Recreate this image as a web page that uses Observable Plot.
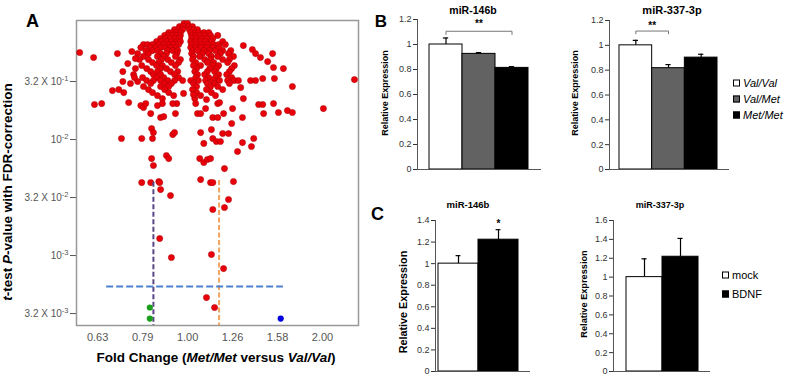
<!DOCTYPE html>
<html>
<head>
<meta charset="utf-8">
<script src="https://cdn.jsdelivr.net/npm/d3@7"></script>
<script src="https://cdn.jsdelivr.net/npm/@observablehq/plot@0.6"></script>
<style>
  body { margin: 0; background: #fff; }
  #root { position: relative; width: 793px; height: 375px; overflow: hidden; background: #fff;
          font-family: "Liberation Sans", Arial, sans-serif; color: #000; }
  .lbl { position: absolute; white-space: nowrap; line-height: 1; transform: translate(-50%, -50%); }
  .leg { position: absolute; display: flex; align-items: center; white-space: nowrap; line-height: 1;
         transform: translateY(-50%); font-size: 11px; }
  .sq { width: 5px; height: 5px; border: 1px solid #000; display: inline-block; margin-right: 3px; }
</style>
</head>
<body>
<div id="root"></div>
<script>
// ---------------- Panel A data (log10 fold change, log10 FDR P-value) ----------------
const xTickVals = [-0.2, -0.1, 0, 0.1, 0.2, 0.3];
const xTickLabels = ["0.63", "0.79", "1.00", "1.26", "1.58", "2.00"];
const yTickVals = [-0.5, -1, -1.5, -2, -2.5];
const yTickLabels = ["3.2 X 10^-1", "10^-2", "3.2 X 10^-2", "10^-3", "3.2 X 10^-3"];

const clusterRows = [
  {lp: 0, lfc: [-0.008, 0.000]},
  {lp: -0.026, lfc: [-0.018, -0.009, 0.002, 0.011]},
  {lp: -0.052, lfc: [-0.029, -0.020, -0.011, 0.004, 0.013, 0.022]},
  {lp: -0.078, lfc: [-0.042, -0.033, -0.024, -0.016, 0.007, 0.016, 0.024, 0.036, 0.047]},
  {lp: -0.103, lfc: [-0.051, -0.042, -0.033, -0.024, -0.016, 0.009, 0.018, 0.027, 0.038, 0.051, 0.067]},
  {lp: -0.129, lfc: [-0.060, -0.049, -0.038, -0.027, -0.018, 0.009, 0.020, 0.031, 0.042, 0.056]},
  {lp: -0.155, lfc: [-0.069, -0.058, -0.047, -0.036, -0.024, -0.016, 0.007, 0.018, 0.029, 0.040, 0.053, 0.078]},
  {lp: -0.181, lfc: [-0.098, -0.089, -0.078, -0.064, -0.053, -0.042, -0.031, -0.020, 0.009, 0.020, 0.031, 0.044, 0.058, 0.069, 0.084]},
  {lp: -0.207, lfc: [-0.104, -0.082, -0.071, -0.060, -0.049, -0.038, -0.027, 0.007, 0.018, 0.029, 0.042, 0.056, 0.071]},
  {lp: -0.233, lfc: [-0.093, -0.078, -0.067, -0.044, -0.033, -0.022, 0.011, 0.022, 0.036, 0.049, 0.062, 0.078, 0.096]},
  {lp: -0.259, lfc: [-0.111, -0.087, -0.060, -0.047, -0.024, 0.009, 0.033, 0.047, 0.073, 0.091]},
  {lp: -0.284, lfc: [-0.098, -0.067, -0.053, -0.027, 0.013, 0.027, 0.053, 0.067, 0.102]},
  {lp: -0.310, lfc: [-0.107, -0.087, -0.058, -0.044, -0.016, 0.011, 0.038, 0.051, 0.078, 0.093]},
  {lp: -0.336, lfc: [-0.078, -0.064, -0.036, -0.020, 0.018, 0.044, 0.058, 0.089]},
  {lp: -0.362, lfc: [-0.102, -0.069, -0.056, -0.027, 0.013, 0.029, 0.056, 0.069, 0.104]},
  {lp: -0.388, lfc: [-0.116, -0.091, -0.060, -0.047, 0.020, 0.049, 0.064, 0.098]},
  {lp: -0.414, lfc: [-0.082, -0.067, -0.038, -0.022, 0.016, 0.044, 0.060, 0.093]},
  {lp: -0.440, lfc: [-0.120, -0.076, -0.060, -0.029, 0.022, 0.038, 0.069, 0.087]},
  {lp: -0.466, lfc: [-0.100, -0.069, -0.053, -0.020, 0.018, 0.047, 0.062, 0.098]},
  {lp: -0.491, lfc: [-0.091, -0.076, -0.060, -0.044, -0.029, -0.011, 0.007, 0.024, 0.040, 0.056, 0.071, 0.089, 0.104]},
  {lp: -0.517, lfc: [-0.082, -0.051, -0.036, 0.013, 0.044, 0.060, 0.093]},
  {lp: -0.543, lfc: [-0.098, -0.060, -0.042, 0.020, 0.051, 0.067]},
  {lp: -0.569, lfc: [-0.087, -0.051, 0.011, 0.042, 0.078]},
  {lp: -0.595, lfc: [-0.078, -0.042, 0.020, 0.053]},
  {lp: -0.621, lfc: [-0.067, -0.031, 0.029, 0.062]},
  {lp: -0.647, lfc: [-0.056, 0.016]}
];

const scatterPts = [
  [-0.240,-0.250],[-0.209,-0.293],[-0.156,-0.259],[-0.124,-0.241],[-0.144,-0.414],[-0.133,-0.345],
  [-0.167,-0.578],[-0.153,-0.569],[-0.142,-0.595],[-0.144,-0.500],[-0.111,-0.500],[-0.207,-0.698],
  [-0.191,-0.690],[-0.131,-0.681],[-0.104,-0.707],[-0.098,-0.724],[-0.093,-0.690],[-0.082,-0.776],
  [-0.056,-0.690],[-0.060,-0.810],[-0.027,-0.776],[-0.024,-0.690],[0.022,-0.776],[0.029,-0.776],
  [0.018,-0.690],[0.040,-0.733],[0.056,-0.810],[0.067,-0.810],[0.067,-0.690],[0.071,-0.681],
  [0.080,-0.776],[0.100,-0.733],[0.122,-0.810],[0.124,-0.647],[0.113,-0.491],[0.118,-0.552],
  [0.140,-0.491],[0.151,-0.491],[0.167,-0.474],[0.193,-0.474],[0.233,-0.543],[0.144,-0.224],
  [0.151,-0.259],[0.162,-0.293],[0.178,-0.328],[0.189,-0.259],[0.191,-0.379],[0.213,-0.388],
  [0.158,-0.698],[0.167,-0.698],[0.191,-0.690],[0.169,-0.776],[0.202,-0.767],[0.222,-0.750],
  [0.233,-0.767],[0.302,-0.733],[0.371,-0.483],[0.124,-0.190],
  [-0.147,-0.991],[-0.102,-0.991],[-0.080,-0.905],[-0.076,-0.940],[-0.078,-0.991],[-0.033,-0.957],
  [-0.029,-0.940],[0.029,-0.940],[0.053,-0.914],[0.056,-0.991],[0.036,-1.034],[0.064,-1.017],
  [0.073,-1.017],[0.078,-0.948],[0.091,-0.948],[0.122,-1.026],[0.147,-0.991],[0.142,-1.060],
  [0.111,-1.103],[0.098,-0.862],
  [-0.080,-1.164],[-0.076,-1.224],[-0.047,-1.138],[-0.042,-1.164],[0.027,-1.164],[0.036,-1.198],
  [0.044,-1.172],[0.051,-1.164],[0.082,-1.250],
  [-0.102,-1.371],[-0.082,-1.371],[-0.064,-1.362],[-0.062,-1.371],[-0.060,-1.431],[-0.038,-1.483],
  [0.029,-1.345],[0.051,-1.371],[0.056,-1.371],[0.102,-1.362],[0.091,-1.517],[0.082,-1.586],
  [0.056,-1.603],[-0.062,-1.853],[-0.036,-2.017],[0.053,-1.991],[0.080,-2.112],[0.042,-2.362],
  [0.060,-2.448],
  [-0.118,-0.466],[-0.116,-0.302],[-0.127,-0.517],[-0.067,-0.707],[-0.053,-0.802],[-0.033,-0.690],
  [0.042,-0.655],[0.013,-0.612],[-0.009,-0.603]
];
const greenPts = [[-0.084, -2.448], [-0.084, -2.543]];
const bluePts = [[0.207, -2.543]];

const downCut = [{lfc: -0.076, top: -1.368}];
const upCut = [{lfc: 0.070, top: -1.353}];
const pCut = [{lp: -2.267, from: -0.180, to: 0.213}];

const xDomainA = [-0.247, 0.380];
const yDomainA = [-2.603, 0.026];

// ---------------- Panel B / C data ----------------
const bGroups = ["Val/Val", "Val/Met", "Met/Met"];
const b146Mean = [1.0, 0.925, 0.813];
const b146Err = [0.052, 0.010, 0.010];
const b337Mean = [1.0, 0.816, 0.901];
const b337Err = [0.040, 0.029, 0.027];
const bTicks = [0, 0.2, 0.4, 0.6, 0.8, 1, 1.2];

const cGroups = ["mock", "BDNF"];
const c146Mean = [1.0, 1.222];
const c146Err = [0.074, 0.093];
const c337Mean = [1.0, 1.216];
const c337Err = [0.194, 0.194];
const c146Ticks = [0, 0.2, 0.4, 0.6, 0.8, 1, 1.2, 1.4];
const c337Ticks = [0, 0.2, 0.4, 0.6, 0.8, 1, 1.2, 1.4, 1.6];

const sigB146 = [{from: 0, to: 2, top: 1.106, foot: 1.080, starY: 1.164, label: "**"}];
const sigB337 = [{from: 0, to: 1, top: 1.115, foot: 1.093, starY: 1.160, label: "**"}];
const sigC146 = [{at: 1, starY: 1.371, label: "*"}];

const fills = {"Val/Val": "#ffffff", "Val/Met": "#626262", "Met/Met": "#000000", "mock": "#ffffff", "BDNF": "#000000"};

// ---------------- helpers ----------------
const FONT = '"Liberation Sans", Arial, sans-serif';
const root = document.getElementById("root");
const svgNS = "http://www.w3.org/2000/svg";

function place(svg, left, top) {
  svg.style.position = "absolute";
  svg.style.left = left + "px";
  svg.style.top = top + "px";
  svg.style.maxWidth = "none";
  root.appendChild(svg);
}
function label(html, x, y, o = {}) {
  const d = document.createElement("div");
  d.className = "lbl";
  d.innerHTML = html;
  d.style.left = x + "px";
  d.style.top = y + "px";
  d.style.fontSize = (o.size || 11) + "px";
  d.style.fontWeight = o.bold ? "bold" : "normal";
  if (o.rotate) d.style.transform = "translate(-50%,-50%) rotate(-90deg)";
  root.appendChild(d);
}
function legendItem(text, fill, x, y, italic) {
  const d = document.createElement("div");
  d.className = "leg";
  d.style.left = x + "px";
  d.style.top = y + "px";
  const s = document.createElement("span");
  s.className = "sq";
  s.style.background = fill;
  const t = document.createElement("span");
  t.textContent = text;
  if (italic) t.style.fontStyle = "italic";
  d.appendChild(s); d.appendChild(t);
  root.appendChild(d);
}

// ---------------- Panel A ----------------
const red = [
  ...clusterRows.flatMap(r => r.lfc.map(v => ({lfc: v, lp: r.lp}))),
  ...scatterPts.map(([a, b]) => ({lfc: a, lp: b}))
];
const green = greenPts.map(([a, b]) => ({lfc: a, lp: b}));
const blue = bluePts.map(([a, b]) => ({lfc: a, lp: b}));
const xLab = new Map(xTickVals.map((v, i) => [v, xTickLabels[i]]));
const yLab = new Map(yTickVals.map((v, i) => [v, yTickLabels[i]]));

const plotA = Plot.plot({
  width: 362, height: 375,
  marginLeft: 76, marginRight: 4, marginTop: 20, marginBottom: 50,
  style: {fontFamily: FONT, fontSize: "11px", color: "#555", background: "transparent", overflow: "visible"},
  x: {domain: xDomainA, ticks: xTickVals, tickFormat: d => xLab.get(d), tickSize: 0, tickPadding: 8, label: null},
  y: {domain: yDomainA, ticks: yTickVals, tickFormat: d => yLab.get(d), tickSize: 6, tickPadding: 2, label: null},
  marks: [
    Plot.frame({stroke: "#999", strokeWidth: 1.5}),
    Plot.dot(red, {x: "lfc", y: "lp", r: 3.1, fill: "#e8000b", stroke: "#a80000", strokeWidth: 0.5}),
    Plot.ruleX(downCut, {x: "lfc", y1: "top", y2: yDomainA[0], stroke: "#5a4585", strokeWidth: 2, strokeDasharray: "5,2.5"}),
    Plot.ruleX(upCut, {x: "lfc", y1: "top", y2: yDomainA[0], stroke: "#f4a35e", strokeWidth: 2, strokeDasharray: "5,2.5"}),
    Plot.ruleY(pCut, {y: "lp", x1: "from", x2: "to", stroke: "#4a82cf", strokeWidth: 2, strokeDasharray: "7,3"}),
    Plot.dot(green, {x: "lfc", y: "lp", r: 3.1, fill: "#1b9e1b"}),
    Plot.dot(blue, {x: "lfc", y: "lp", r: 3.1, fill: "#0000e0"})
  ]
});
// y tick labels: smaller, with superscript exponents
plotA.querySelectorAll('[aria-label^="y-axis"] text').forEach(t => {
  t.style.fontSize = "10px";
  const s = t.textContent;
  if (s.includes("^")) {
    const [base, sup] = s.split("^");
    t.textContent = base;
    const ts = document.createElementNS(svgNS, "tspan");
    ts.setAttribute("dy", "-0.45em");
    ts.style.fontSize = "7.5px";
    ts.textContent = sup;
    t.appendChild(ts);
  }
});
place(plotA, 0, 0);

label("A", 32.5, 21, {size: 18, bold: true});
label("<i>t</i>-test <i>P</i>-value with FDR-correction", 8, 192, {size: 13.5, bold: true, rotate: true});
label("Fold Change (<i>Met/Met</i> versus <i>Val/Val</i>)", 216, 358, {size: 13.5, bold: true});

// ---------------- Bar charts ----------------
function barChart(c) {
  const rows = c.groups.map((g, i) => ({group: g, i, mean: c.mean[i], err: c.err[i]}));
  const marks = [
    Plot.rectY(rows, {x1: d => d.i - 0.5, x2: d => d.i + 0.5, y: "mean", fill: d => fills[d.group], stroke: "#000", strokeWidth: 1}),
    Plot.ruleX(rows, {x: "i", y1: "mean", y2: d => d.mean + d.err, stroke: "#000", strokeWidth: 1.2}),
    Plot.ruleY(rows, {y: d => d.mean + d.err, x1: d => d.i - c.cap, x2: d => d.i + c.cap, stroke: "#000", strokeWidth: 1.2}),
    Plot.ruleX([c.xDomain[0]], {stroke: "#555", strokeWidth: 1}),
    Plot.ruleY([0], {stroke: "#555", strokeWidth: 1})
  ];
  (c.brackets || []).forEach(b => {
    const pts = [{x: b.from, y: b.foot}, {x: b.from, y: b.top}, {x: b.to, y: b.top}, {x: b.to, y: b.foot}];
    marks.push(Plot.line(pts, {x: "x", y: "y", stroke: "#777", strokeWidth: 1}));
    marks.push(Plot.text([b], {x: d => (d.from + d.to) / 2, y: "starY", text: "label", fontSize: 10, fontWeight: "bold", fill: "#000"}));
  });
  (c.stars || []).forEach(s => {
    marks.push(Plot.text([s], {x: "at", y: "starY", text: "label", fontSize: 10, fontWeight: "bold", fill: "#000"}));
  });
  const svg = Plot.plot({
    width: c.width, height: c.height,
    marginLeft: c.ml, marginRight: c.mr, marginTop: c.mt, marginBottom: c.mb,
    style: {fontFamily: FONT, fontSize: "9px", color: "#333", background: "transparent", overflow: "visible"},
    color: {type: "identity"},
    x: {domain: c.xDomain, axis: null},
    y: {domain: [0, c.ticks[c.ticks.length - 1]], ticks: c.ticks, tickFormat: d => String(d), tickSize: 4, tickPadding: 2, label: null},
    marks
  });
  place(svg, c.left, c.top);
}

// B: miR-146b
barChart({groups: bGroups, mean: b146Mean, err: b146Err, ticks: bTicks,
  xDomain: [-0.864, 2.894], left: 390, top: 0, width: 155, height: 180, ml: 27, mr: 4, mt: 19, mb: 11,
  cap: 0.08, brackets: sigB146});
// B: miR-337-3p
barChart({groups: bGroups, mean: b337Mean, err: b337Err, ticks: bTicks,
  xDomain: [-0.806, 2.867], left: 585, top: 0, width: 150, height: 180, ml: 24, mr: 6, mt: 20, mb: 11,
  cap: 0.08, brackets: sigB337});
// C: miR-146b
barChart({groups: cGroups, mean: c146Mean, err: c146Err, ticks: c146Ticks,
  xDomain: [-0.575, 1.8], left: 410, top: 190, width: 125, height: 185, ml: 25, mr: 5, mt: 30, mb: 4,
  cap: 0.06, stars: sigC146});
// C: miR-337-3p
barChart({groups: cGroups, mean: c337Mean, err: c337Err, ticks: c337Ticks,
  xDomain: [-0.861, 1.833], left: 590, top: 190, width: 125, height: 185, ml: 23, mr: 5, mt: 30, mb: 4,
  cap: 0.07});

// Panel letters, titles, axis labels
label("B", 381, 21, {size: 17, bold: true});
label("C", 377.5, 213.5, {size: 18, bold: true});
label("miR-146b", 473, 9.5, {size: 10.5, bold: true});
label("miR-337-3p", 672, 10, {size: 11, bold: true});
label("miR-146b", 468, 205, {size: 9.5, bold: true});
label("miR-337-3p", 660, 205, {size: 9, bold: true});
label("Relative Expression", 385, 92.5, {size: 9, bold: true, rotate: true});
label("Relative Expression", 575, 92.5, {size: 9, bold: true, rotate: true});
label("Relative Expression", 403, 301.5, {size: 10.8, bold: true, rotate: true});
label("Relative Expression", 585, 293.5, {size: 9.2, bold: true, rotate: true});

// Legends
bGroups.forEach((g, i) => legendItem(g, fills[g], 733, 83 + i * 16, true));
cGroups.forEach((g, i) => legendItem(g, fills[g], 722, 275 + i * 19, false));
</script>
</body>
</html>
